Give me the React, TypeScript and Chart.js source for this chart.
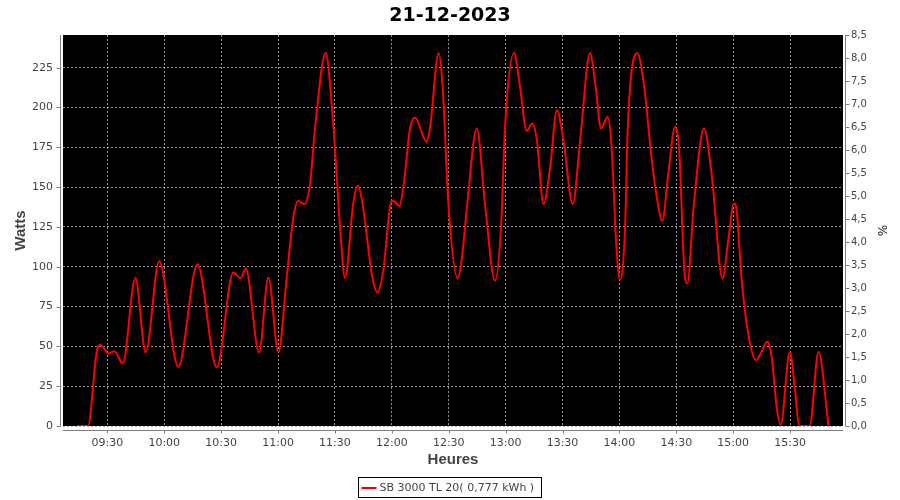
import { useEffect, useRef } from "react";
import { Chart, registerables } from "chart.js";

Chart.register(...registerables);

const chartTitle = "21-12-2023";
const seriesLabel = "SB 3000 TL 20( 0,777 kWh )";
const xAxisTitle = "Heures";
const yAxisTitle = "Watts";
const y2AxisTitle = "%";

// Sample times (minutes since midnight)
const timeMinutes = [
  554.2, 559.8, 564.4, 566.5, 570.5, 573.7, 578.1, 584.8, 590.2, 597.3,
  607.4, 617.5, 627.7, 636.4, 640.3, 643.0, 650.0, 654.9, 660.2, 664.6,
  668.1, 670.7, 673.9, 676.9, 679.5, 685.1, 689.2, 692.7, 695.3, 699.7,
  702.0, 704.1, 709.7, 712.4, 715.5, 719.6, 720.8, 724.0, 726.1, 729.6,
  732.2, 738.4, 740.2, 744.7, 746.8, 749.8, 754.7, 756.8, 759.8, 764.8,
  769.1, 774.4, 777.6, 779.7, 784.4, 787.6, 791.1, 794.1, 796.5, 800.0,
  803.5, 807.0, 810.5, 815.4, 819.3, 824.5, 827.5, 830.3, 833.8, 835.9,
  838.2, 840.3, 843.0, 844.4, 849.4, 853.1, 856.7, 859.7, 862.6, 865.8,
  869.3, 871.4, 874.6, 875.8, 879.3, 884.6, 888.6, 894.4, 897.4, 900.4,
  901.8, 904.4, 907.9, 912.0, 915.0, 917.9, 920.3, 922.9, 925.0, 929.9,
  932.6, 934.8, 940.3, 945.0, 950.3,
];

// Power (W) at each sample time
const watts = [
  0, 0, 46.6, 50.8, 45.6, 47.0, 39.3, 93.0, 46.2, 103.5,
  37.2, 101.4, 36.8, 96.4, 92.7, 98.9, 46.2, 93.3, 46.2, 93.7,
  131.3, 141.2, 139.3, 152.3, 186.8, 234.2, 187.8, 125.0, 93.0, 140.1,
  150.8, 142.9, 93.7, 83.9, 97.9, 140.4, 141.4, 138.2, 150.1, 186.8,
  193.7, 178.4, 187.8, 234.2, 212.9, 139.7, 92.7, 104.2, 139.7, 186.8,
  139.7, 91.2, 125.0, 187.8, 234.2, 212.9, 185.3, 189.9, 179.4, 139.3,
  162.7, 198.3, 179.4, 139.3, 179.4, 234.2, 212.9, 186.8, 194.1, 175.2,
  116.7, 91.6, 125.0, 186.8, 234.2, 212.9, 171.1, 143.9, 128.8, 158.5,
  187.8, 175.2, 92.7, 89.5, 139.7, 186.8, 158.5, 92.7, 116.7, 139.7,
  135.5, 92.7, 58.2, 41.4, 46.6, 52.9, 43.5, 12.1, 0.6, 46.6,
  22.6, 0, 0, 46.6, 0,
];

const xMin = 546.6;
const xMax = 957.9;
const wattsMax = 245.5;
const wattsStep = 25;
const percentMax = 8.5;
const percentStep = 0.5;
const timeStep = 30;

const tickFont = { family: "'DejaVu Sans', sans-serif", size: 11 };
const axisTitleFont = { family: "'Liberation Sans', Arial, sans-serif", size: 15, weight: "bold" as const };
const gridColor = "rgba(165,165,165,0.9)";

function fmtTime(v: number): string {
  const h = Math.floor(v / 60);
  const m = Math.round(v - h * 60);
  return String(h).padStart(2, "0") + ":" + String(m).padStart(2, "0");
}

const framePlugin = {
  id: "frame",
  beforeDraw(chart: any) {
    const { ctx, chartArea: a, width, height } = chart;
    ctx.save();
    ctx.fillStyle = "#ffffff";
    ctx.fillRect(0, 0, width, height);
    ctx.fillStyle = "#000000";
    ctx.fillRect(a.left, a.top, a.right - a.left, a.bottom - a.top);
    ctx.restore();
  },
  afterDraw(chart: any) {
    const { ctx, chartArea: a, scales } = chart;
    ctx.save();
    ctx.strokeStyle = "#808080";
    ctx.lineWidth = 1;
    const seg = (x1: number, y1: number, x2: number, y2: number) => {
      ctx.beginPath();
      ctx.moveTo(x1, y1);
      ctx.lineTo(x2, y2);
      ctx.stroke();
    };
    // left axis
    const lx = a.left - 2.5;
    seg(lx, a.top, lx, a.bottom);
    scales.y.ticks.forEach((t: any) => {
      const py = Math.round(scales.y.getPixelForValue(t.value)) + 0.5;
      seg(lx - 4, py, lx, py);
    });
    // right axis
    const rx = a.right + 2.5;
    seg(rx, a.top, rx, a.bottom);
    scales.y1.ticks.forEach((t: any) => {
      const py = Math.round(scales.y1.getPixelForValue(t.value)) + 0.5;
      seg(rx, py, rx + 4, py);
    });
    // bottom axis
    const by = a.bottom + 4.5;
    seg(a.left, by, a.right, by);
    scales.x.ticks.forEach((t: any) => {
      const px = Math.round(scales.x.getPixelForValue(t.value)) + 0.5;
      seg(px, by, px, by + 3);
    });

    // legend
    ctx.font = "11px 'DejaVu Sans', sans-serif";
    const tw = ctx.measureText(seriesLabel).width;
    const bw = Math.round(21 + tw + 7);
    const bh = 20;
    const bx = Math.round(450 - bw / 2) - 0.5;
    const byy = 477.5;
    ctx.strokeStyle = "#000000";
    ctx.lineWidth = 1;
    ctx.strokeRect(bx, byy, bw, bh);
    ctx.strokeStyle = "#ff0000";
    ctx.lineWidth = 2;
    seg(bx + 3, byy + 10.5, bx + 18, byy + 10.5);
    ctx.fillStyle = "#444444";
    ctx.textBaseline = "middle";
    ctx.textAlign = "left";
    ctx.fillText(seriesLabel, bx + 21, byy + 10.5);
    ctx.restore();
  },
};

export default function App() {
  const ref = useRef<HTMLCanvasElement>(null);

  useEffect(() => {
    if (!ref.current) return;
    const points = timeMinutes.map((t, i) => ({ x: t, y: watts[i] }));
    const chart = new Chart(ref.current, {
      type: "line",
      data: {
        datasets: [
          {
            label: seriesLabel,
            data: points,
            borderColor: "#ff0000",
            backgroundColor: "#ff0000",
            borderWidth: 2,
            pointRadius: 0,
            fill: false,
            cubicInterpolationMode: "monotone",
            yAxisID: "y",
          },
        ],
      },
      options: {
        animation: false,
        responsive: false,
        devicePixelRatio: 1,
        layout: { padding: 0 },
        plugins: {
          legend: { display: false },
          tooltip: { enabled: false },
          title: {
            display: true,
            text: chartTitle,
            color: "#000000",
            font: { family: "'DejaVu Sans', sans-serif", size: 19, weight: "bold" },
            padding: { top: 4.5, bottom: 7.7 },
          },
        },
        scales: {
          x: {
            type: "linear",
            position: "bottom",
            min: xMin,
            max: xMax,
            afterFit: (s: any) => {
              s.height = 74;
            },
            border: { display: false, dash: [2, 2] },
            grid: {
              color: gridColor,
              lineWidth: 1,
              drawTicks: false,
            },
            ticks: {
              stepSize: timeStep,
              includeBounds: false,
              autoSkip: false,
              maxRotation: 0,
              padding: 11,
              color: "#444444",
              font: tickFont,
              callback: (v: any) => fmtTime(Number(v)),
            },
            title: {
              display: true,
              text: xAxisTitle,
              color: "#444444",
              font: axisTitleFont,
              padding: { top: 0, bottom: 31 },
            },
          },
          y: {
            type: "linear",
            position: "left",
            min: 0,
            max: wattsMax,
            afterFit: (s: any) => {
              s.width = 63;
            },
            border: { display: false, dash: [2, 2] },
            grid: {
              color: gridColor,
              lineWidth: 1,
              drawTicks: false,
            },
            ticks: {
              stepSize: wattsStep,
              includeBounds: false,
              padding: 10,
              color: "#444444",
              font: tickFont,
            },
            title: {
              display: true,
              text: yAxisTitle,
              color: "#444444",
              font: axisTitleFont,
              padding: { top: 12, bottom: 0 },
            },
          },
          y1: {
            type: "linear",
            position: "right",
            display: true,
            min: 0,
            max: percentMax,
            afterFit: (s: any) => {
              s.width = 57;
            },
            border: { display: false },
            grid: { display: false, drawTicks: false },
            ticks: {
              stepSize: percentStep,
              includeBounds: false,
              padding: 8,
              color: "#444444",
              font: { family: "'DejaVu Sans', sans-serif", size: 10 },
              callback: (v: any) => Number(v).toFixed(1).replace(".", ","),
            },
            title: {
              display: true,
              text: y2AxisTitle,
              color: "#222222",
              font: { family: "'DejaVu Sans', sans-serif", size: 12 },
              padding: { top: 12, bottom: 0 },
            },
          },
        },
      },
      plugins: [framePlugin],
    } as any);
    return () => chart.destroy();
  }, []);

  return (
    <div style={{ position: "fixed", left: 0, top: 0, width: 900, height: 500, background: "#ffffff" }}>
      <canvas ref={ref} width={900} height={500} style={{ display: "block", width: 900, height: 500 }} />
    </div>
  );
}
